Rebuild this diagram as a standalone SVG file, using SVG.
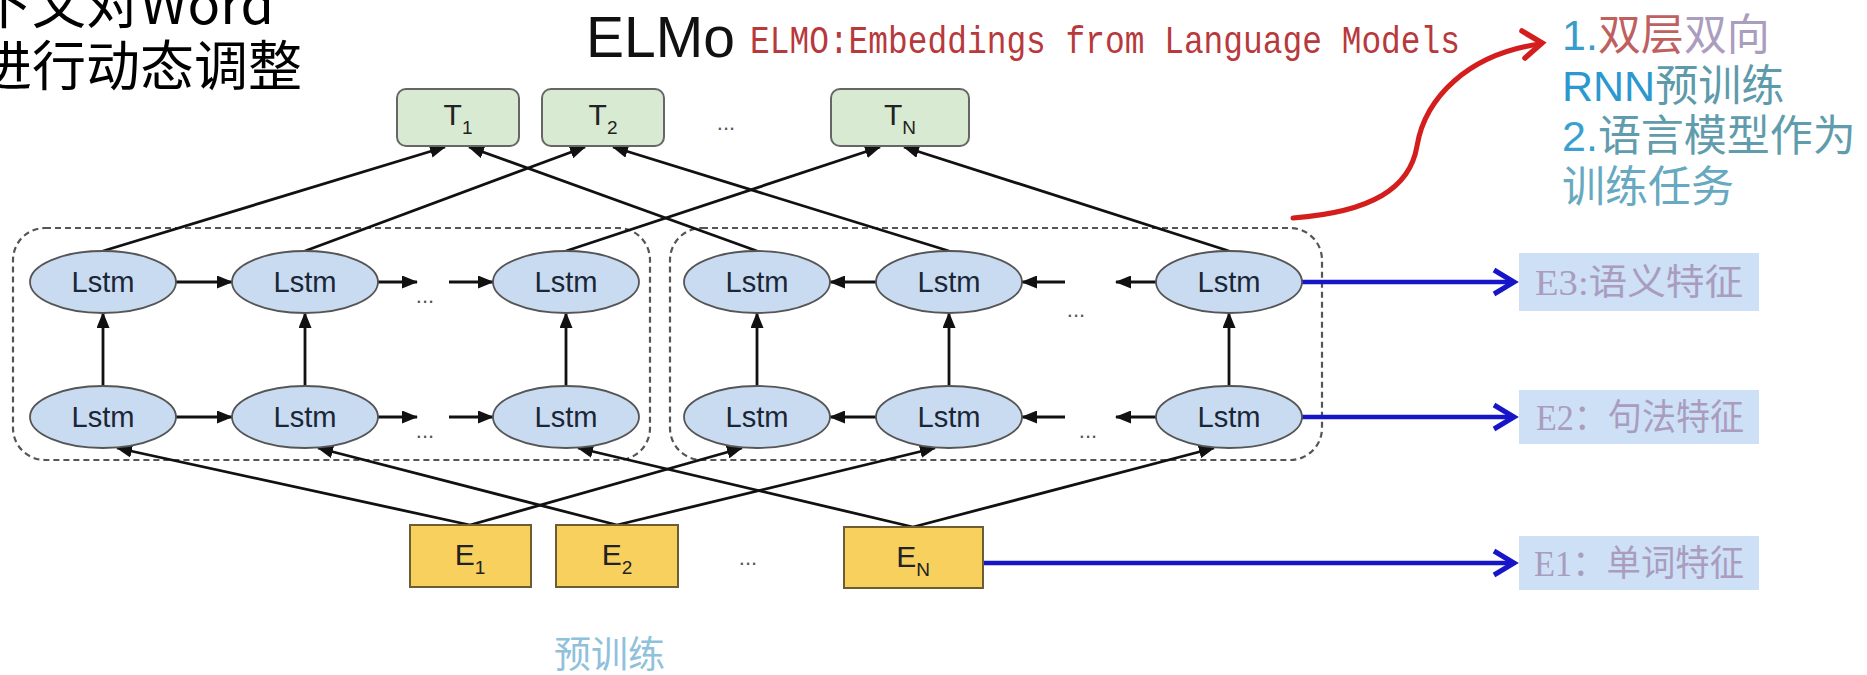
<svg xmlns="http://www.w3.org/2000/svg" width="1867" height="675" viewBox="0 0 1867 675">
  <defs>
    <marker id="ah" viewBox="0 0 16 13" refX="15" refY="6.5" markerWidth="16" markerHeight="13" markerUnits="userSpaceOnUse" orient="auto">
      <path d="M0,0 L16,6.5 L0,13 z" fill="#111"/>
    </marker>
    <style>
      .lstm ellipse { fill: #c9dbf1; stroke: #555; stroke-width: 1.8; }
      .lstm text { font-family: "Liberation Sans", Arial, sans-serif; font-size: 29px; fill: #1b2636; text-anchor: middle; }
      .tbox rect { fill: #d9ead3; stroke: #666; stroke-width: 2; }
      .ebox rect { fill: #f7d05e; stroke: #6d5d35; stroke-width: 2; }
      .tbox text, .ebox text { font-family: "Liberation Sans", Arial, sans-serif; font-size: 30px; fill: #222; text-anchor: middle; }
      .sub { font-size: 19px; }
      .group { fill: none; stroke: #555; stroke-width: 2.2; stroke-dasharray: 6 4; }
      .link { stroke: #111; stroke-width: 2.8; fill: none; }
      .arr { marker-end: url(#ah); }
      .dots { font-family: "Liberation Sans", Arial, sans-serif; font-size: 22px; fill: #555; text-anchor: middle; }
      .blue { stroke: #1616c8; stroke-width: 4.5; fill: none; }
      .blue-head { stroke: #1616c8; stroke-width: 5; fill: none; stroke-linejoin: miter; }
      .feat rect { fill: #cde0f6; }
      .feat text { font-family: "Liberation Serif", "Noto Sans CJK SC", serif; font-size: 36px; fill: #a99cbf; }
      .note { font-family: "Liberation Sans", "Noto Sans CJK SC", sans-serif; font-size: 43px; }
    </style>
  </defs>

  <rect width="1867" height="675" fill="#fff"/>

  <!-- heading text, top left -->
  <g id="heading" font-family="'Noto Sans CJK SC', sans-serif" font-size="54" fill="#000">
    <text x="-22" y="24">下文对Word</text>
    <text x="-22" y="86">进行动态调整</text>
  </g>

  <!-- title -->
  <g id="title">
    <text x="586" y="57" font-family="'Liberation Sans', Arial, sans-serif" font-size="57" fill="#111">ELMo</text>
    <text x="750" y="53" font-family="'Liberation Mono', monospace" font-size="39" fill="#b8393c" textLength="710" lengthAdjust="spacingAndGlyphs">ELMO:Embeddings from Language Models</text>
  </g>

  <!-- dashed groups: forward and backward LSTM -->
  <g id="groups">
    <rect class="group" x="13" y="228" width="637" height="232" rx="32"/>
    <rect class="group" x="670" y="228" width="652" height="232" rx="32"/>
  </g>

  <!-- connectors -->
  <g id="connectors">
    <!-- top-row LSTMs to outputs -->
    <line class="link arr" x1="103" y1="251" x2="445" y2="147"/>
    <line class="link arr" x1="757" y1="251" x2="469" y2="147"/>
    <line class="link arr" x1="305" y1="251" x2="585" y2="147"/>
    <line class="link arr" x1="949" y1="251" x2="613" y2="147"/>
    <line class="link arr" x1="566" y1="251" x2="880" y2="147"/>
    <line class="link arr" x1="1229" y1="251" x2="904" y2="147"/>
    <!-- embeddings to bottom-row LSTMs -->
    <line class="link arr" x1="470" y1="525" x2="117" y2="448"/>
    <line class="link arr" x1="470" y1="525" x2="742" y2="448"/>
    <line class="link arr" x1="617" y1="525" x2="318" y2="448"/>
    <line class="link arr" x1="617" y1="525" x2="935" y2="448"/>
    <line class="link arr" x1="913" y1="527" x2="578" y2="448"/>
    <line class="link arr" x1="913" y1="527" x2="1214" y2="448"/>
    <!-- vertical: layer 1 to layer 2 -->
    <line class="link arr" x1="103" y1="386" x2="103" y2="313"/>
    <line class="link arr" x1="305" y1="386" x2="305" y2="313"/>
    <line class="link arr" x1="566" y1="386" x2="566" y2="313"/>
    <line class="link arr" x1="757" y1="386" x2="757" y2="313"/>
    <line class="link arr" x1="949" y1="386" x2="949" y2="313"/>
    <line class="link arr" x1="1229" y1="386" x2="1229" y2="313"/>
    <!-- forward recurrences -->
    <line class="link arr" x1="176" y1="282" x2="232" y2="282"/>
    <line class="link arr" x1="378" y1="282" x2="417" y2="282"/>
    <line class="link arr" x1="449" y1="282" x2="493" y2="282"/>
    <line class="link arr" x1="176" y1="417" x2="232" y2="417"/>
    <line class="link arr" x1="378" y1="417" x2="417" y2="417"/>
    <line class="link arr" x1="449" y1="417" x2="493" y2="417"/>
    <!-- backward recurrences -->
    <line class="link arr" x1="876" y1="282" x2="830" y2="282"/>
    <line class="link arr" x1="1065" y1="282" x2="1022" y2="282"/>
    <line class="link arr" x1="1156" y1="282" x2="1116" y2="282"/>
    <line class="link arr" x1="876" y1="417" x2="830" y2="417"/>
    <line class="link arr" x1="1065" y1="417" x2="1022" y2="417"/>
    <line class="link arr" x1="1156" y1="417" x2="1116" y2="417"/>
    <!-- feature outputs -->
    <line class="blue" x1="1302" y1="282" x2="1513" y2="282"/>
    <polyline class="blue-head" points="1494,270 1514,282 1494,294"/>
    <line class="blue" x1="1302" y1="417" x2="1513" y2="417"/>
    <polyline class="blue-head" points="1494,405 1514,417 1494,429"/>
    <line class="blue" x1="983" y1="563" x2="1513" y2="563"/>
    <polyline class="blue-head" points="1494,551 1514,563 1494,575"/>
    <!-- red annotation arrow -->
    <path d="M1293,218 C1372,212 1410,188 1417,146 C1425,98 1468,54 1540,44" fill="none" stroke="#d41e1e" stroke-width="5" stroke-linecap="round"/>
    <polyline points="1522,31 1542,43 1525,58" fill="none" stroke="#d41e1e" stroke-width="5.5" stroke-linecap="round"/>
  </g>

  <!-- ellipsis marks -->
  <g id="ellipses">
    <text class="dots" x="726" y="130">...</text>
    <text class="dots" x="748" y="565">...</text>
    <text class="dots" x="425" y="303">...</text>
    <text class="dots" x="425" y="438">...</text>
    <text class="dots" x="1076" y="317">...</text>
    <text class="dots" x="1088" y="438">...</text>
  </g>

  <!-- output nodes -->
  <g id="T1" class="tbox"><rect x="397" y="89" width="122" height="57" rx="9"/><text x="458" y="125">T<tspan class="sub" dy="9">1</tspan></text></g>
  <g id="T2" class="tbox"><rect x="542" y="89" width="122" height="57" rx="9"/><text x="603" y="125">T<tspan class="sub" dy="9">2</tspan></text></g>
  <g id="TN" class="tbox"><rect x="831" y="89" width="138" height="57" rx="9"/><text x="900" y="125">T<tspan class="sub" dy="9">N</tspan></text></g>

  <!-- forward LSTMs, layer 2 -->
  <g id="lstm-f2-1" class="lstm"><ellipse cx="103" cy="282" rx="73" ry="31"/><text x="103" y="292" textLength="63" lengthAdjust="spacingAndGlyphs">Lstm</text></g>
  <g id="lstm-f2-2" class="lstm"><ellipse cx="305" cy="282" rx="73" ry="31"/><text x="305" y="292" textLength="63" lengthAdjust="spacingAndGlyphs">Lstm</text></g>
  <g id="lstm-f2-n" class="lstm"><ellipse cx="566" cy="282" rx="73" ry="31"/><text x="566" y="292" textLength="63" lengthAdjust="spacingAndGlyphs">Lstm</text></g>
  <!-- forward LSTMs, layer 1 -->
  <g id="lstm-f1-1" class="lstm"><ellipse cx="103" cy="417" rx="73" ry="31"/><text x="103" y="427" textLength="63" lengthAdjust="spacingAndGlyphs">Lstm</text></g>
  <g id="lstm-f1-2" class="lstm"><ellipse cx="305" cy="417" rx="73" ry="31"/><text x="305" y="427" textLength="63" lengthAdjust="spacingAndGlyphs">Lstm</text></g>
  <g id="lstm-f1-n" class="lstm"><ellipse cx="566" cy="417" rx="73" ry="31"/><text x="566" y="427" textLength="63" lengthAdjust="spacingAndGlyphs">Lstm</text></g>
  <!-- backward LSTMs, layer 2 -->
  <g id="lstm-b2-1" class="lstm"><ellipse cx="757" cy="282" rx="73" ry="31"/><text x="757" y="292" textLength="63" lengthAdjust="spacingAndGlyphs">Lstm</text></g>
  <g id="lstm-b2-2" class="lstm"><ellipse cx="949" cy="282" rx="73" ry="31"/><text x="949" y="292" textLength="63" lengthAdjust="spacingAndGlyphs">Lstm</text></g>
  <g id="lstm-b2-n" class="lstm"><ellipse cx="1229" cy="282" rx="73" ry="31"/><text x="1229" y="292" textLength="63" lengthAdjust="spacingAndGlyphs">Lstm</text></g>
  <!-- backward LSTMs, layer 1 -->
  <g id="lstm-b1-1" class="lstm"><ellipse cx="757" cy="417" rx="73" ry="31"/><text x="757" y="427" textLength="63" lengthAdjust="spacingAndGlyphs">Lstm</text></g>
  <g id="lstm-b1-2" class="lstm"><ellipse cx="949" cy="417" rx="73" ry="31"/><text x="949" y="427" textLength="63" lengthAdjust="spacingAndGlyphs">Lstm</text></g>
  <g id="lstm-b1-n" class="lstm"><ellipse cx="1229" cy="417" rx="73" ry="31"/><text x="1229" y="427" textLength="63" lengthAdjust="spacingAndGlyphs">Lstm</text></g>

  <!-- embedding nodes -->
  <g id="E1" class="ebox"><rect x="410" y="525" width="121" height="62"/><text x="470" y="565">E<tspan class="sub" dy="9">1</tspan></text></g>
  <g id="E2" class="ebox"><rect x="556" y="525" width="122" height="62"/><text x="617" y="565">E<tspan class="sub" dy="9">2</tspan></text></g>
  <g id="EN" class="ebox"><rect x="844" y="527" width="139" height="61"/><text x="913" y="567">E<tspan class="sub" dy="9">N</tspan></text></g>

  <!-- feature labels -->
  <g id="E3-label" class="feat"><rect x="1519" y="253" width="240" height="58"/><text x="1535" y="295" textLength="208" lengthAdjust="spacingAndGlyphs">E3:语义特征</text></g>
  <g id="E2-label" class="feat"><rect x="1519" y="390" width="240" height="54"/><text x="1536" y="430" textLength="208" lengthAdjust="spacingAndGlyphs">E2：句法特征</text></g>
  <g id="E1-label" class="feat"><rect x="1519" y="536" width="240" height="54"/><text x="1534" y="576" textLength="210" lengthAdjust="spacingAndGlyphs">E1：单词特征</text></g>

  <!-- pretraining caption -->
  <text id="pretrain" x="554" y="668" font-family="'Liberation Serif', 'Noto Sans CJK SC', serif" font-size="37" fill="#8fc1dc">预训练</text>

  <!-- annotation, top right -->
  <g id="notes" class="note">
    <text x="1562" y="50"><tspan fill="#3a9cc8">1.</tspan><tspan fill="#c0605e">双层</tspan><tspan fill="#ab9dbd">双向</tspan></text>
    <text x="1562" y="101"><tspan fill="#2b98cf">RNN</tspan><tspan fill="#5d9aaa">预训练</tspan></text>
    <text x="1562" y="151"><tspan fill="#3aa0d0">2.</tspan><tspan fill="#609cac">语言模型作为</tspan></text>
    <text x="1562" y="202" fill="#67a9c0">训练任务</text>
  </g>
</svg>
